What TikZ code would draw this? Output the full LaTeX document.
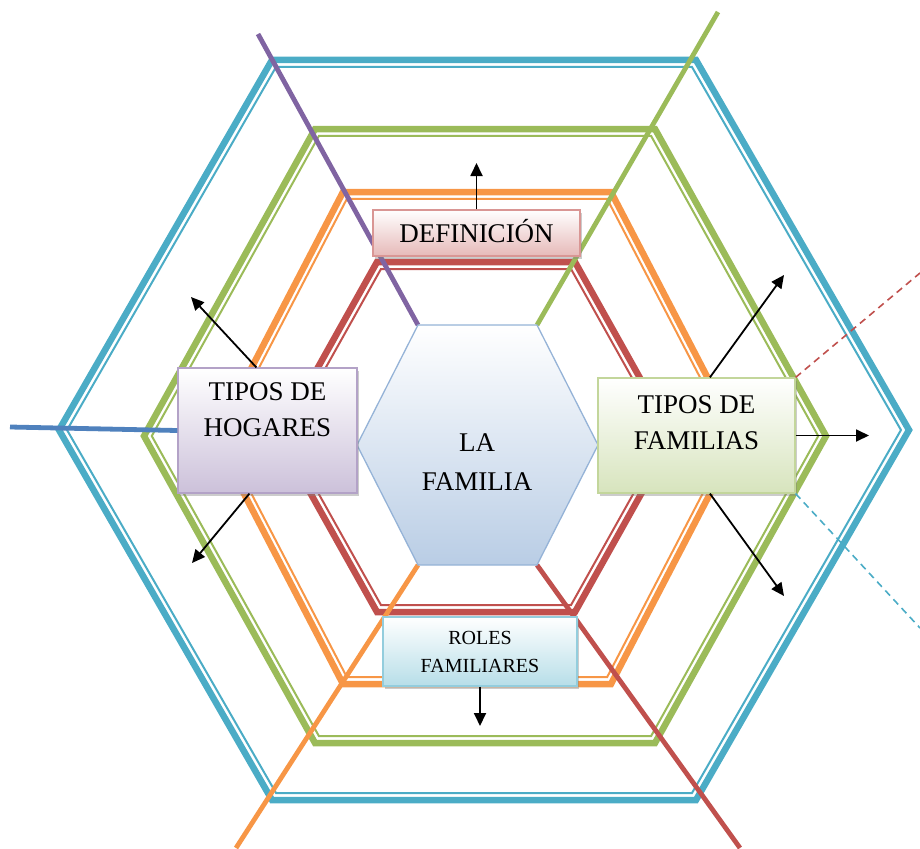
\documentclass[tikz,border=0pt]{standalone}
\usepackage{fontspec}
\setmainfont{Liberation Serif}
\usepackage{tikz}
\usetikzlibrary{arrows.meta,shadows}
\definecolor{ringblue}{RGB}{75,172,198}
\definecolor{ringgreen}{RGB}{155,187,89}
\definecolor{ringorange}{RGB}{247,150,70}
\definecolor{ringred}{RGB}{192,80,77}
\definecolor{spokepurple}{RGB}{128,100,162}
\definecolor{spokeblue}{RGB}{79,129,189}
\definecolor{corefill}{RGB}{185,205,229}
\definecolor{coreline}{RGB}{149,179,215}
\definecolor{defpink}{RGB}{230,185,184}
\definecolor{defline}{RGB}{217,150,148}
\definecolor{hoglilac}{RGB}{204,193,218}
\definecolor{hogline}{RGB}{179,162,199}
\definecolor{famgreen}{RGB}{215,228,189}
\definecolor{famline}{RGB}{195,214,155}
\definecolor{rolblue}{RGB}{183,222,232}
\definecolor{rolline}{RGB}{147,205,221}
\newcommand{\bigtxt}{\fontsize{27pt}{36pt}\selectfont}
\newcommand{\coretxt}{\fontsize{27pt}{39pt}\selectfont}
\newcommand{\smalltxt}{\fontsize{20pt}{28pt}\selectfont}
\newcommand{\cardtxt}[4]{\parbox[c][#2][t]{#1}{\centering\bigtxt\vspace*{#3}#4}}
\tikzset{
    ring/.style={line width=6.5pt},
    ringthin/.style={line width=2pt},
    spoke/.style={line width=4.8pt},
    arr/.style={line width=1.8pt, -{Triangle[length=13pt,width=12pt]}},
    guide/.style={line width=1.6pt, dash pattern=on 7pt off 5pt},
    card/.style={draw, line width=1.2pt, inner sep=0pt,
        drop shadow={shadow xshift=2pt, shadow yshift=-3pt, opacity=0.4}},
}

\begin{document}
\begin{tikzpicture}[x=1pt, y=-1pt]
    % Frame in pixel units of the original, y grows downwards
    \useasboundingbox (0,0) rectangle (920,848);

    % Rings: thick outer stroke, thin inner stroke
    % centre x / centre y / half top edge / vertex distance / half height
    \foreach \col/\cx/\cy/\hw/\rv/\hh in {ringblue/484/430/212/425/370,
        ringgreen/485/436/170/341/307, ringorange/477/438/134/262/246,
        ringred/476/437/99/197/175} {
        \draw[ring, \col] (\cx-\hw,\cy-\hh) -- (\cx+\hw,\cy-\hh) -- (\cx+\rv,\cy)
            -- (\cx+\hw,\cy+\hh) -- (\cx-\hw,\cy+\hh) -- (\cx-\rv,\cy) -- cycle;
        \begin{scope}[shift={(\cx,\cy)}, scale={1-7/\hh}]
            \draw[ringthin, \col] (-\hw,-\hh) -- (\hw,-\hh) -- (\rv,0)
                -- (\hw,\hh) -- (-\hw,\hh) -- (-\rv,0) -- cycle;
        \end{scope}
    }

    % Corners of the core hexagon
    \coordinate (cTL) at (418,325);
    \coordinate (cTR) at (537,325);
    \coordinate (cR)  at (598,445);
    \coordinate (cBR) at (537,565);
    \coordinate (cBL) at (418,565);
    \coordinate (cL)  at (357,445);

    % Free ends of the spokes
    \coordinate (pEnd) at (258,34);
    \coordinate (gEnd) at (718,12);
    \coordinate (oEnd) at (236,848);
    \coordinate (rEnd) at (740,848);
    \coordinate (bEnd) at (10,427);

    % Spokes
    \draw[spoke, spokepurple] (cTL) -- (pEnd);
    \draw[spoke, ringgreen] (cTR) -- (gEnd);
    \draw[spoke, ringorange] (cBL) -- (oEnd);
    \draw[spoke, ringred] (cBR) -- (rEnd);

    % Core hexagon
    \shadedraw[top color=white, bottom color=corefill, draw=coreline, line width=1.3pt]
        (cTL) -- (cTR) -- (cR) -- (cBR) -- (cBL) -- (cL) -- cycle;
    \node[font=\coretxt, align=center] (core) at (477,462) {LA\\FAMILIA};

    % Cards
    \node[card, draw=defline, top color=white, bottom color=defpink, minimum width=207pt,
        minimum height=46pt, font=\bigtxt, text height=18pt, text depth=0pt]
        (def) at (476.5,233) {DEFINICIÓN};
    \node[card, draw=hogline, top color=white, bottom color=hoglilac]
        (hog) at (267.5,430.5) {\cardtxt{179pt}{125pt}{15pt}{TIPOS DE\\HOGARES}};
    \node[card, draw=famline, top color=white, bottom color=famgreen]
        (fam) at (696.5,435.5) {\cardtxt{197pt}{115pt}{18pt}{TIPOS DE\\FAMILIAS}};
    \node[card, draw=rolline, top color=white, bottom color=rolblue, minimum width=194pt,
        minimum height=69pt, font=\smalltxt, align=center]
        (rol) at (480,651.5) {ROLES\\FAMILIARES};

    % Spoke into the left card
    \draw[spoke, spokeblue] (bEnd) -- (hog.west);

    % Dashed guides
    \coordinate (redCut) at (920,273);
    \coordinate (blueCut) at (920,628);
    \draw[guide, ringred] (fam.north east) -- (redCut);
    \draw[guide, ringblue] (fam.south east) -- (blueCut);

    % Arrows
    \coordinate (defTip) at (476.5,163);
    \coordinate (hogTipA) at (191,297);
    \coordinate (hogTipB) at (192,563);
    \coordinate (famTipA) at (784,275);
    \coordinate (famTipB) at (869,435.5);
    \coordinate (famTipC) at (784,596);
    \coordinate (rolTip) at (480,726);
    \draw[arr] (def.north) -- (defTip);
    \draw[arr] (hog.100) -- (hogTipA);
    \draw[arr] (hog.254) -- (hogTipB);
    \draw[arr] (fam.77) -- (famTipA);
    \draw[arr] (fam.east) -- (famTipB);
    \draw[arr] (fam.283) -- (famTipC);
    \draw[arr] (rol.south) -- (rolTip);
\end{tikzpicture}
\end{document}
